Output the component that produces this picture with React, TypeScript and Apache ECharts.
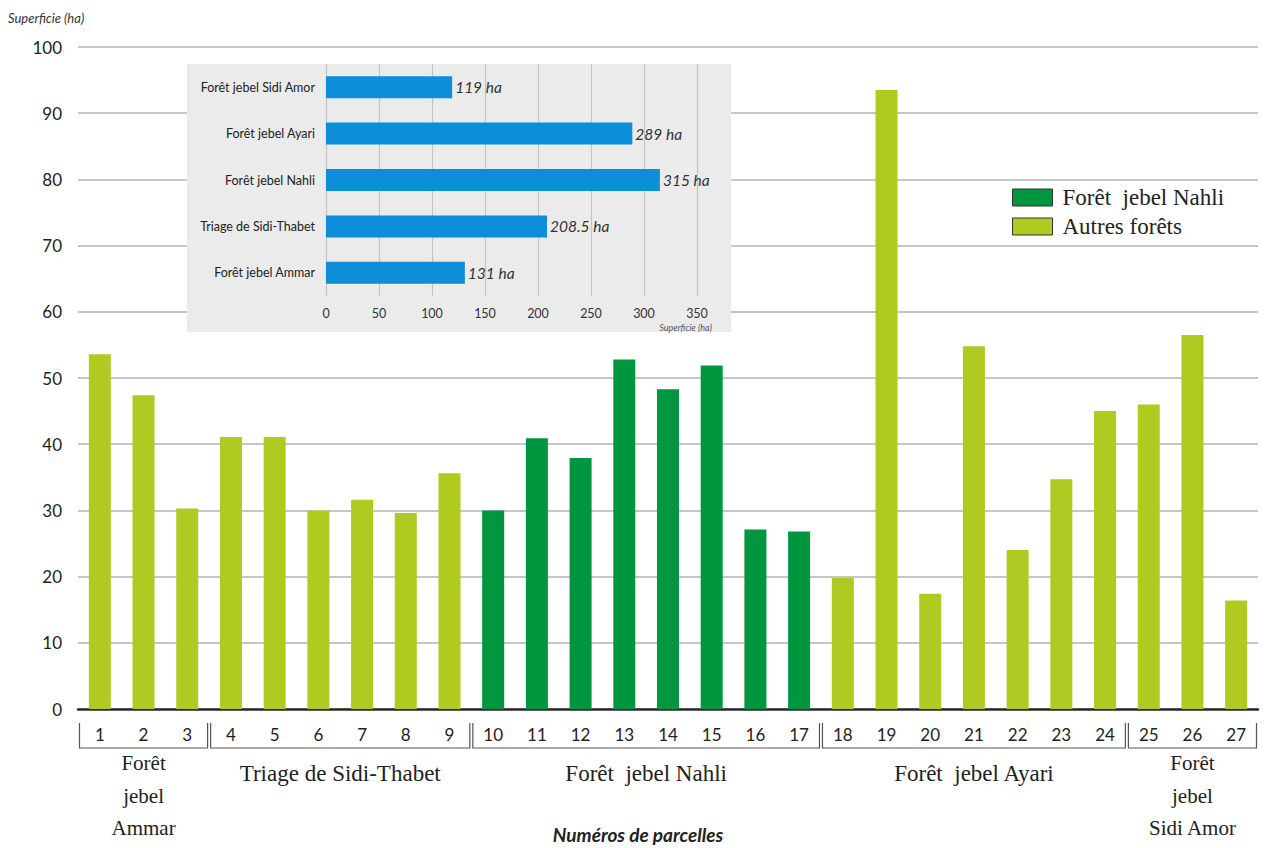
import React, { useEffect, useRef } from "react";
import * as echarts from "echarts";

const parcels = ["1","2","3","4","5","6","7","8","9","10","11","12","13","14","15","16","17","18","19","20","21","22","23","24","25","26","27"];
const surfaces = [53.6, 47.4, 30.3, 41.1, 41.1, 30.0, 31.6, 29.6, 35.6, 30.0, 40.9, 37.9, 52.8, 48.3, 51.9, 27.1, 26.8, 19.8, 93.5, 17.4, 54.8, 24.0, 34.7, 45.0, 46.0, 56.5, 16.4];
const groupNames = ["Forêt\njebel\nAmmar", "Triage de Sidi-Thabet", "Forêt  jebel Nahli", "Forêt  jebel Ayari", "Forêt\njebel\nSidi Amor"];
const groupSizes = [3, 6, 8, 7, 3];
const nahliGroupIndex = 2;
const seriesNames = ["Forêt  jebel Nahli", "Autres forêts"];

const forests = ["Forêt jebel Ammar", "Triage de Sidi-Thabet", "Forêt jebel Nahli", "Forêt jebel Ayari", "Forêt jebel Sidi Amor"];
const forestTotals = [131, 208.5, 315, 289, 119];

const DARK = "#00963f";
const LIGHT = "#b1ca21";
const BLUE = "#0d8ed8";
const SANS = "Lato, 'Open Sans', sans-serif";
const SERIF = "'Liberation Serif', 'DejaVu Serif', serif";

export default function App() {
  const ref = useRef<HTMLDivElement>(null);
  useEffect(() => {
    if (!ref.current) return;
    const chart = echarts.init(ref.current, undefined, { renderer: "svg" });

    const groupOf: number[] = [];
    groupSizes.forEach((n, g) => { for (let k = 0; k < n; k++) groupOf.push(g); });
    const nahliData = surfaces.map((v, i) => (groupOf[i] === nahliGroupIndex ? v : "-"));
    const otherData = surfaces.map((v, i) => (groupOf[i] !== nahliGroupIndex ? v : "-"));

    chart.setOption({
      animation: false,
      backgroundColor: "#ffffff",
      grid: [
        { left: 78, top: 47, width: 1180, height: 662 },
        { left: 326, top: 64, width: 371, height: 232 },
      ],
      legend: {
        data: seriesNames,
        orient: "vertical",
        left: 1012,
        top: 186,
        itemWidth: 40,
        itemHeight: 17,
        itemGap: 6,
        padding: 0,
        icon: "rect",
        itemStyle: { borderColor: "#333", borderWidth: 1 },
        textStyle: { fontFamily: SERIF, fontSize: 23, color: "#222", lineHeight: 22, padding: [0, 0, 0, 5] },
      },
      xAxis: [
        {
          gridIndex: 0,
          type: "category",
          data: parcels,
          axisLine: { lineStyle: { color: "#2a2a2a", width: 2.5 } },
          axisTick: { show: false },
          axisLabel: { fontSize: 17, color: "#222", margin: 17, fontFamily: SANS },
        },
        {
          gridIndex: 1,
          type: "value",
          min: 0,
          max: 350,
          interval: 50,
          z: 2,
          axisLine: { show: false },
          axisTick: { show: false },
          axisLabel: { fontSize: 12.5, color: "#333", margin: 11, fontFamily: SANS },
          splitLine: { lineStyle: { color: "#c4c4c4", width: 1.2 } },
        },
      ],
      yAxis: [
        {
          gridIndex: 0,
          type: "value",
          min: 0,
          max: 100,
          interval: 10,
          axisLine: { show: false },
          axisTick: { show: false },
          axisLabel: { fontSize: 17, color: "#222", margin: 16, fontFamily: SANS },
          splitLine: { lineStyle: { color: "#b3b3b3", width: 1.5 } },
        },
        {
          gridIndex: 1,
          type: "category",
          data: forests,
          z: 2,
          axisLine: { show: false },
          axisTick: { show: false },
          axisLabel: { fontSize: 12.5, color: "#222", margin: 11, fontFamily: SANS },
        },
      ],
      series: [
        {
          name: seriesNames[0],
          type: "bar",
          xAxisIndex: 0,
          yAxisIndex: 0,
          data: nahliData,
          barWidth: 22,
          barGap: "-100%",
          itemStyle: { color: DARK },
        },
        {
          name: seriesNames[1],
          type: "bar",
          xAxisIndex: 0,
          yAxisIndex: 0,
          data: otherData,
          barWidth: 22,
          barGap: "-100%",
          itemStyle: { color: LIGHT },
        },
        {
          name: "Superficie totale",
          type: "bar",
          xAxisIndex: 1,
          yAxisIndex: 1,
          z: 3,
          data: forestTotals,
          barWidth: 22,
          itemStyle: { color: BLUE },
          label: {
            show: true,
            position: "right",
            distance: 3,
            formatter: (p: any) => `${p.value} ha`,
            fontFamily: SANS,
            fontStyle: "italic",
            fontSize: 15.5,
            color: "#333",
          },
        },
      ],
      graphic: [],
    });

    const xAt = (i: number) => (chart.convertToPixel({ xAxisIndex: 0 }, parcels[i]) as number);
    const axisY = chart.convertToPixel({ yAxisIndex: 0 }, 0) as number;
    const band = xAt(1) - xAt(0);

    const elements: any[] = [
      {
        type: "rect",
        z: 1,
        shape: { x: 187, y: 64, width: 544, height: 268 },
        style: { fill: "#ebebeb" },
        silent: true,
      },
      {
        type: "text",
        z: 5,
        x: 712,
        y: 327,
        style: { text: "Superficie (ha)", fontSize: 9, fontStyle: "italic", fontFamily: SANS, fill: "#555", align: "right", verticalAlign: "middle" },
      },
      {
        type: "text",
        x: 8,
        y: 18,
        style: { text: "Superficie (ha)", fontSize: 13, fontStyle: "italic", fontFamily: SANS, fill: "#333", align: "left", verticalAlign: "middle" },
      },
      {
        type: "text",
        x: 638,
        y: 834,
        style: { text: "Numéros de parcelles", fontSize: 19, fontStyle: "italic", fontWeight: "bold", fontFamily: SANS, fill: "#222", align: "center", verticalAlign: "middle" },
      },
    ];

    let start = 0;
    groupSizes.forEach((n, g) => {
      const left = xAt(start) - band / 2;
      const right = xAt(start + n - 1) + band / 2;
      const top = axisY + 14;
      const bottom = axisY + 39;
      elements.push({
        type: "polyline",
        shape: { points: [[left + 1.5, top], [left + 1.5, bottom], [right - 1.5, bottom], [right - 1.5, top]] },
        style: { stroke: "#555", lineWidth: 1.2, fill: null },
      });
      const multi = groupNames[g].includes("\n");
      elements.push({
        type: "text",
        x: (left + right) / 2,
        y: multi ? axisY + 38 : axisY + 48,
        style: {
          text: groupNames[g],
          fontFamily: SERIF,
          fontSize: multi ? 21 : 23,
          lineHeight: 32.5,
          fill: "#222",
          align: "center",
          verticalAlign: "top",
        },
      });
      start += n;
    });

    chart.setOption({ graphic: elements });

    return () => chart.dispose();
  }, []);

  return <div ref={ref} style={{ position: "absolute", left: 0, top: 0, width: 1266, height: 848 }} />;
}
